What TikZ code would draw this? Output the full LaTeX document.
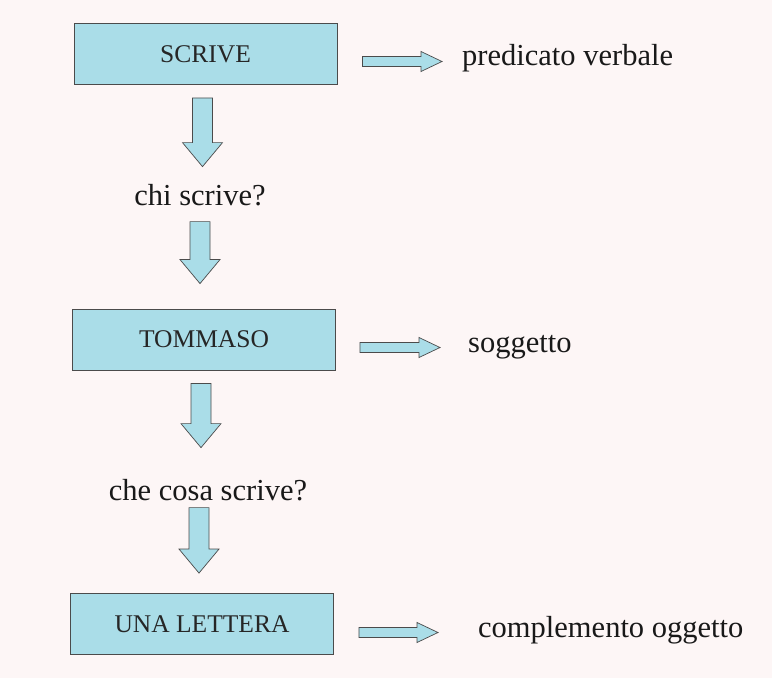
\documentclass[tikz,border=0pt]{standalone}
\usepackage{fontspec}
\setmainfont{Liberation Serif}
\usetikzlibrary{calc}
\definecolor{celeste}{RGB}{170,221,232}
\definecolor{carta}{RGB}{253,246,246}
\definecolor{bordo}{RGB}{75,75,75}
\tikzset{
  box/.style={draw=bordo,fill=celeste,line width=0.9pt,minimum width=263pt,minimum height=61pt,
    inner sep=0pt,font=\fontsize{25.5}{30}\selectfont,text=black!85},
  lab/.style={inner sep=0pt,font=\fontsize{30.5}{36}\selectfont,text=black!90},
  giu/.style={draw=bordo,fill=celeste,line width=0.7pt,to path={
    let \p1=(\tikztostart),\p2=(\tikztotarget) in
    (\x1-10pt,\y1) -- (\x1+10pt,\y1) -- (\x1+10pt,\y2+24pt) -- (\x1+20pt,\y2+24pt) -- (\x1,\y2)
    -- (\x1-20pt,\y2+24pt) -- (\x1-10pt,\y2+24pt) -- cycle}},
  destra/.style={draw=bordo,fill=celeste,line width=0.7pt,to path={
    let \p1=(\tikztostart),\p2=(\tikztotarget) in
    (\x1,\y1+5pt) -- (\x2-21pt,\y1+5pt) -- (\x2-21pt,\y1+10pt) -- (\x2,\y1) -- (\x2-21pt,\y1-10pt)
    -- (\x2-21pt,\y1-5pt) -- (\x1,\y1-5pt) -- cycle}}
}
\begin{document}
\begin{tikzpicture}[x=1pt,y=-1pt]
  \fill[carta] (0,0) rectangle (772,678);
  \node[box] (scrive) at (205.5,54) {SCRIVE};
  \node[box] (tommaso) at (204,339.5) {TOMMASO};
  \node[box] (lettera) at (202,624) {UNA LETTERA};
  \node[lab,anchor=base] (chi) at (200,205) {chi scrive?};
  \node[lab,anchor=base] (checosa) at (208,500) {che cosa scrive?};
  \node[lab,anchor=base west] (predicato) at (462,65) {predicato verbale};
  \node[lab,anchor=base west] (soggetto) at (468,352) {soggetto};
  \node[lab,anchor=base west] (complemento) at (478,637) {complemento oggetto};
  \draw[giu] ([xshift=-3pt,yshift=-13pt]scrive.south) to ([yshift=17pt]chi.north);
  \draw[giu] ([yshift=-16pt]chi.south) to ([yshift=25pt]tommaso.north);
  \draw[giu] ([xshift=-3pt,yshift=-13pt]tommaso.south) to ([yshift=31pt]checosa.north);
  \draw[giu] ([xshift=-9pt,yshift=-7pt]checosa.south) to ([yshift=20pt]lettera.north);
  \draw[destra] ([xshift=25pt,yshift=-7.5pt]scrive.east) to ([xshift=-20pt]predicato.west);
  \draw[destra] ([xshift=24pt,yshift=-8pt]tommaso.east) to ([xshift=-28pt]soggetto.west);
  \draw[destra] ([xshift=25pt,yshift=-8.5pt]lettera.east) to ([xshift=-40pt]complemento.west);
\end{tikzpicture}
\end{document}
